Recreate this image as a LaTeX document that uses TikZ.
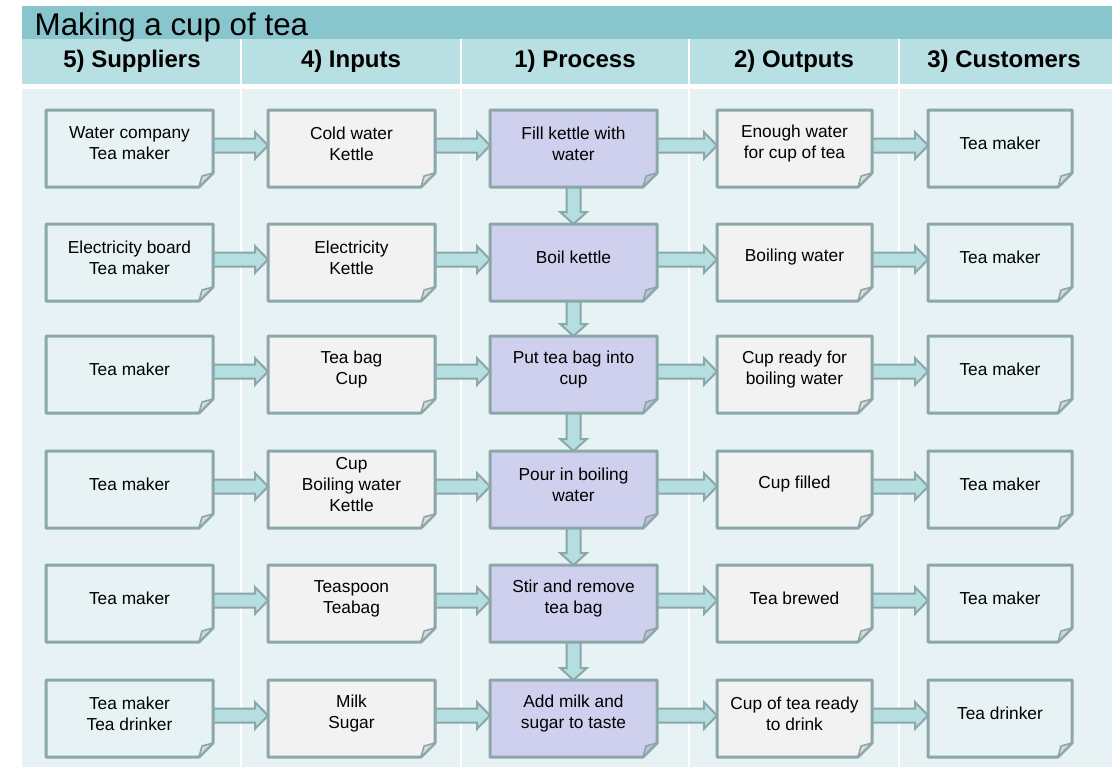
\documentclass[tikz,border=0pt]{standalone}
\usepackage{fontspec}
\setmainfont{Liberation Sans}
\usetikzlibrary{calc}
\definecolor{bandteal}{RGB}{137,197,204}
\definecolor{headteal}{RGB}{184,223,226}
\definecolor{bodyteal}{RGB}{230,242,244}
\definecolor{edgeteal}{RGB}{139,167,169}
\definecolor{arrowteal}{RGB}{181,222,225}
\definecolor{papergray}{RGB}{242,242,242}
\definecolor{paperlav}{RGB}{207,207,238}
\pgfdeclarelayer{back}
\pgfdeclarelayer{mid}
\pgfsetlayers{back,mid,main}

% block arrows between boxes
\newcommand{\flowright}[2]{%
  \path[flow] let \p1=(#1.east), \p2=(#2.west) in
    (\x1,\y1-6.75pt) -- (\x2-9.75pt,\y1-6.75pt) -- (\x2-9.75pt,\y1-11.5pt) -- (\x2,\y1-1.5pt)
    -- (\x2-9.75pt,\y1+8.5pt) -- (\x2-9.75pt,\y1+3.75pt) -- (\x1,\y1+3.75pt) -- cycle;}
\newcommand{\flowdown}[2]{%
  \path[flow] let \p1=(#1.south), \p2=(#2.north) in
    (\x1-5.25pt,\y1-3.75pt) -- (\x1-5.25pt,\y2+5.25pt) -- (\x1-10pt,\y2+5.25pt) -- (\x1,\y2-3.75pt)
    -- (\x1+10pt,\y2+5.25pt) -- (\x1+5.25pt,\y2+5.25pt) -- (\x1+5.25pt,\y1-3.75pt) -- cycle;}

\begin{document}
\begin{tikzpicture}[x=0.75pt, y=-0.75pt,
  doc/.style={minimum width=125.25pt, minimum height=57.75pt, inner sep=1pt, outer sep=0pt, align=center, font=\fontsize{13}{15.75}\selectfont},
  docnarrow/.style={doc, minimum width=116.25pt},
  docsmall/.style={doc, minimum width=108pt},
  headtext/.style={anchor=base, font=\fontsize{18}{20}\selectfont\bfseries},
  paper/.style={draw=edgeteal, line width=2.25pt, line join=round},
  flap/.style={draw=edgeteal, line width=1.2pt, line join=round},
  flow/.style={draw=edgeteal, fill=arrowteal, line width=1.5pt, line join=miter}
]
  \useasboundingbox (0,0) rectangle (1112,767);

  % bands and columns
  \begin{pgfonlayer}{back}
    \fill[white] (0,0) rectangle (1112,767);
    \fill[bandteal] (22,6) rectangle (1112,39);
    \fill[headteal] (22,39) rectangle (1112,84);
    \fill[bodyteal] (22,89) rectangle (1112,767);
    \foreach \xs in {241,461,689,899} {
      \draw[white, line width=1.5pt] (\xs,39) -- (\xs,84);
      \draw[white, line width=1.5pt] (\xs,89) -- (\xs,767);
    }
  \end{pgfonlayer}

  \node[anchor=base west, font=\fontsize{23.5}{28}\selectfont] (title) at (30,36) {Making a cup of tea};

  \node[headtext] (hsup) at (132,68) {5) Suppliers};
  \node[headtext] (hinp) at (351,68) {4) Inputs};
  \node[headtext] (hpro) at (575,68) {1) Process};
  \node[headtext] (hout) at (794,68) {2) Outputs};
  \node[headtext] (hcus) at (1004,68) {3) Customers};

  % row 1
  \node[doc] (sup1) at (129.5,143.5) {Water company\\Tea maker};
  \node[doc] (inp1) at (351.5,143.5) {Cold water\\Kettle};
  \node[doc] (pro1) at (573.5,143.5) {Fill kettle with\\water};
  \node[docnarrow] (out1) at (794.5,143.5) {Enough water\\for cup of tea};
  \node[docsmall] (cus1) at (1000,143.5) {Tea maker};
  % row 2
  \node[doc] (sup2) at (129.5,257.5) {Electricity board\\Tea maker};
  \node[doc] (inp2) at (351.5,257.5) {Electricity\\Kettle};
  \node[doc] (pro2) at (573.5,257.5) {Boil kettle};
  \node[docnarrow] (out2) at (794.5,257.5) {Boiling water};
  \node[docsmall] (cus2) at (1000,257.5) {Tea maker};
  % row 3
  \node[doc] (sup3) at (129.5,369.5) {Tea maker};
  \node[doc] (inp3) at (351.5,369.5) {Tea bag\\Cup};
  \node[doc] (pro3) at (573.5,369.5) {Put tea bag into\\cup};
  \node[docnarrow] (out3) at (794.5,369.5) {Cup ready for\\boiling water};
  \node[docsmall] (cus3) at (1000,369.5) {Tea maker};
  % row 4
  \node[doc] (sup4) at (129.5,484.5) {Tea maker};
  \node[doc] (inp4) at (351.5,484.5) {Cup\\Boiling water\\Kettle};
  \node[doc] (pro4) at (573.5,484.5) {Pour in boiling\\water};
  \node[docnarrow] (out4) at (794.5,484.5) {Cup filled};
  \node[docsmall] (cus4) at (1000,484.5) {Tea maker};
  % row 5
  \node[doc] (sup5) at (129.5,598.5) {Tea maker};
  \node[doc] (inp5) at (351.5,598.5) {Teaspoon\\Teabag};
  \node[doc] (pro5) at (573.5,598.5) {Stir and remove\\tea bag};
  \node[docnarrow] (out5) at (794.5,598.5) {Tea brewed};
  \node[docsmall] (cus5) at (1000,598.5) {Tea maker};
  % row 6
  \node[doc] (sup6) at (129.5,713.5) {Tea maker\\Tea drinker};
  \node[doc] (inp6) at (351.5,713.5) {Milk\\Sugar};
  \node[doc] (pro6) at (573.5,713.5) {Add milk and\\sugar to taste};
  \node[docnarrow] (out6) at (794.5,713.5) {Cup of tea ready\\to drink};
  \node[docsmall] (cus6) at (1000,713.5) {Tea drinker};

  \begin{pgfonlayer}{mid}
    \foreach \a/\b in {sup/inp, inp/pro, pro/out, out/cus}
      \foreach \rw in {1,...,6}
        \flowright{\a\rw}{\b\rw};
    \foreach \rw/\nx in {1/2, 2/3, 3/4, 4/5, 5/6}
      \flowdown{pro\rw}{pro\nx};
    % paper sheets with a turned corner
    \foreach \cname/\tint in {sup/bodyteal, inp/papergray, pro/paperlav, out/papergray, cus/bodyteal}
      \foreach \rw in {1,...,6} {
        \filldraw[paper, fill=\tint] ([yshift=-3.75pt]\cname\rw.north west) -- ([yshift=-3.75pt]\cname\rw.north east)
          -- ([yshift=6.75pt]\cname\rw.south east) -- ([xshift=-10.5pt,yshift=-3.75pt]\cname\rw.south east)
          -- ([yshift=-3.75pt]\cname\rw.south west) -- cycle;
        \filldraw[flap, fill=\tint!80!gray] ([xshift=-10.5pt,yshift=-3.75pt]\cname\rw.south east)
          -- ([xshift=-8.25pt,yshift=4.5pt]\cname\rw.south east) -- ([yshift=6.75pt]\cname\rw.south east) -- cycle;
      }
  \end{pgfonlayer}
\end{tikzpicture}
\end{document}
